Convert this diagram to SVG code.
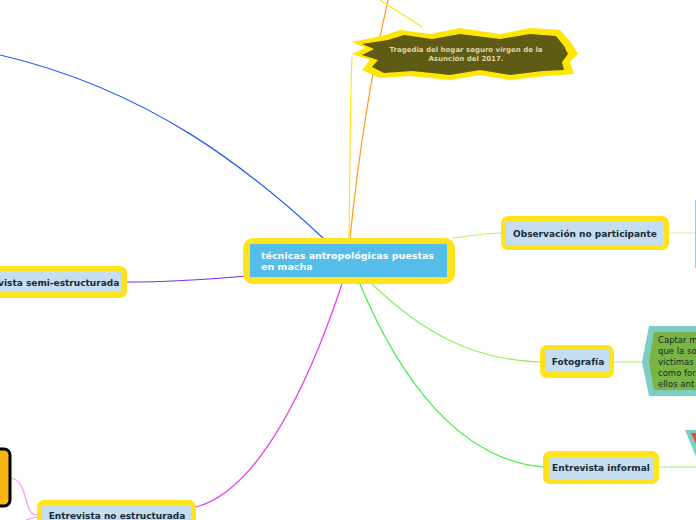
<svg xmlns="http://www.w3.org/2000/svg" width="696" height="520" viewBox="0 0 696 520">
<style>
.frame{fill:#ffe31c;}
.inner{fill:#c5ddf0;}
.lbl{font-family:"DejaVu Sans",sans-serif;font-size:9px;font-weight:bold;fill:#1a2a30;text-anchor:middle;}
.conn{fill:none;stroke-width:1.2;}
</style>
<rect width="696" height="520" fill="#ffffff"/>
<g id="connectors">
<path class="conn" stroke="#1d5cf5" d="M323,238 C250,170 150,90 0,55"/>
<path class="conn" stroke="#ff9d1f" d="M350,238 C358,160 372,70 388,0"/>
<path class="conn" stroke="#ffe41a" d="M349,238 C350,170 350,100 352,57"/>
<path class="conn" stroke="#ffe41a" d="M380,0 L422,27"/>
<path class="conn" stroke="#7b2ff0" d="M246,276 C200,280 160,282 127,282"/>
<path class="conn" stroke="#b4f160" d="M452,238 C470,236 485,233 501,233"/>
<path class="conn" stroke="#d8f7a8" d="M669,233 L696,233"/>
<path class="conn" stroke="#8ef25a" d="M372,284 C420,330 470,360 540,362"/>
<path class="conn" stroke="#b5f47e" d="M614,362 L643,362"/>
<path class="conn" stroke="#3ef03e" d="M360,284 C400,380 460,460 543,467"/>
<path class="conn" stroke="#8ef56a" d="M659,467 L696,467"/>
<path class="conn" stroke="#e83af0" d="M342,284 C310,380 260,490 196,507"/>
<path class="conn" stroke="#f59af0" d="M10,478 C30,480 22,515 37,515"/>
<path class="conn" stroke="#f59af0" d="M37,517 C32,518 29,519 26,520"/>
</g>
<g id="center">
<rect class="frame" x="243" y="238" width="212" height="46" rx="10"/>
<rect x="250" y="244" width="197" height="33" fill="#55bdea"/>
<text x="261" y="259" font-family="DejaVu Sans,sans-serif" font-size="9.5" font-weight="bold" fill="#ffffff">técnicas antropológicas puestas</text>
<text x="261" y="270" font-family="DejaVu Sans,sans-serif" font-size="9.5" font-weight="bold" fill="#ffffff">en macha</text>
</g>
<g id="tragedia">
<polygon fill="#ffe600" points="352,42 382,36 400,30 430,34 460,28 500,34 530,28 560,30 572,44 578,54 570,62 574,74 545,76 510,80 480,75 450,80 410,76 380,78 362,70 370,60 352,54 365,48"/>
<polygon fill="#5f5a14" points="362,44 388,40 404,35 432,39 460,34 500,39 530,34 556,36 564,46 568,54 562,62 564,70 543,71 510,75 480,70 450,75 412,71 384,73 372,67 378,60 362,55 374,49"/>
<text x="466" y="52" font-family="DejaVu Sans,sans-serif" font-size="7" font-weight="bold" fill="#ddd6a8" text-anchor="middle">Tragedia del hogar seguro virgen de la</text>
<text x="466" y="61" font-family="DejaVu Sans,sans-serif" font-size="7" font-weight="bold" fill="#ddd6a8" text-anchor="middle">Asunción del 2017.</text>
</g>
<g id="semi">
<rect class="frame" x="-20" y="266" width="147" height="32" rx="7"/>
<rect class="inner" x="-20" y="271" width="141" height="21"/>
<text class="lbl" x="45" y="286" fill="#163d3d">Entrevista semi-estructurada</text>
</g>
<g id="observacion">
<rect class="frame" x="501" y="216" width="168" height="34" rx="7"/>
<rect class="inner" x="506" y="222" width="158" height="23"/>
<text class="lbl" x="585" y="237">Observación no participante</text>
</g>
<g id="obs-child">
<line x1="696" y1="200" x2="696" y2="268" stroke="#8fd3c9" stroke-width="2"/>
</g>
<g id="fotografia">
<rect class="frame" x="540" y="345" width="74" height="33" rx="7"/>
<rect class="inner" x="546" y="350" width="63" height="22"/>
<text class="lbl" x="578" y="365">Fotografía</text>
</g>
<g id="captar">
<polygon fill="#7ecdc3" points="649,326 700,326 700,396 649,396 642,362"/>
<polygon fill="#79b546" points="654,332 700,332 700,390 654,390 649,362"/>
<text font-family="DejaVu Sans,sans-serif" font-size="8.5" fill="#1a2a1a">
<tspan x="658" y="343">Captar m</tspan>
<tspan x="658" y="354">que la so</tspan>
<tspan x="658" y="365">víctimas</tspan>
<tspan x="658" y="376">como for</tspan>
<tspan x="658" y="387">ellos ant</tspan>
</text>
</g>
<g id="informal">
<rect class="frame" x="543" y="451" width="116" height="33" rx="7"/>
<rect class="inner" x="549" y="457" width="105" height="22"/>
<text class="lbl" x="601" y="471">Entrevista informal</text>
</g>
<g id="informal-child">
<polygon fill="#7ecdc3" points="685,430 700,430 700,466"/>
<polygon fill="#e8483a" points="691,433 700,433 700,452"/>
</g>
<g id="noestructurada">
<rect class="frame" x="37" y="500" width="159" height="30" rx="7"/>
<rect class="inner" x="42" y="505" width="149" height="25"/>
<text class="lbl" x="117" y="519" fill="#163d3d">Entrevista no estructurada</text>
</g>
<g id="noest-child">
<rect x="-20" y="449" width="30" height="57" rx="6" fill="#f7b614" stroke="#000000" stroke-width="3"/>
</g>
</svg>
